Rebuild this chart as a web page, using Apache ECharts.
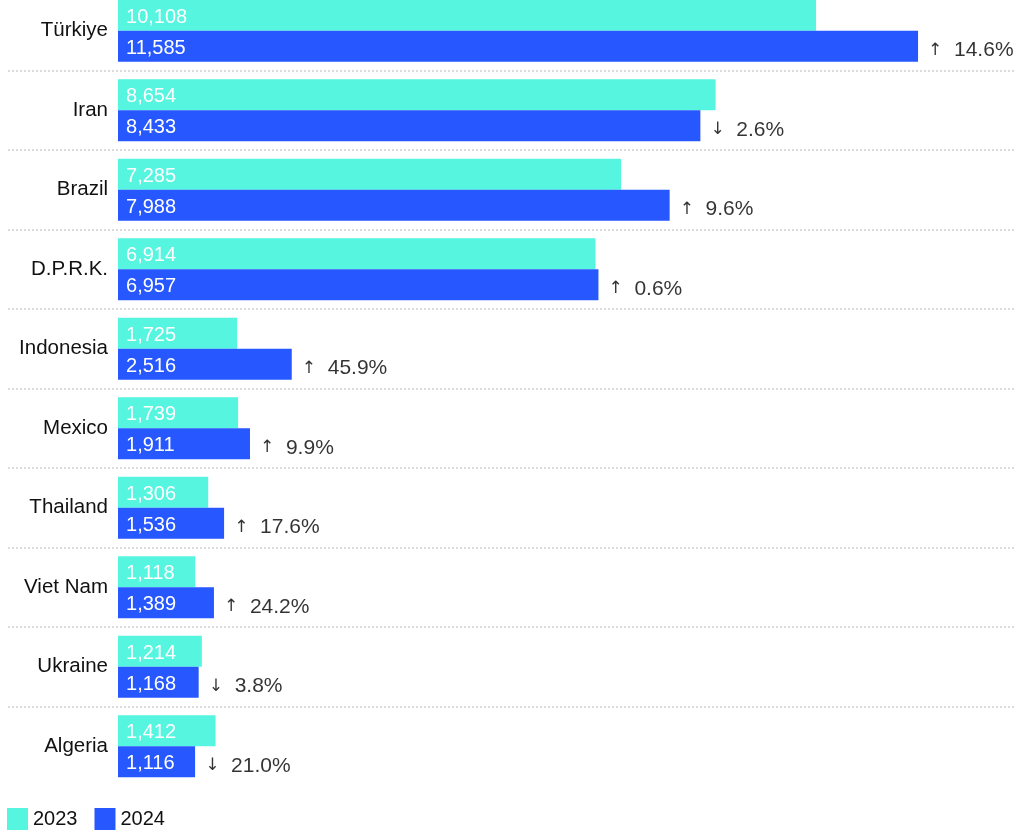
<!DOCTYPE html>
<html>
<head>
<meta charset="utf-8">
<script src="https://cdn.jsdelivr.net/npm/echarts@6/dist/echarts.min.js"></script>
<style>html,body{margin:0;padding:0;background:#fff}#c{width:1024px;height:833px}</style>
</head>
<body>
<div id="c"></div>
<script>
const categories = ['Türkiye','Iran','Brazil','D.P.R.K.','Indonesia','Mexico','Thailand','Viet Nam','Ukraine','Algeria'];
const values2023 = [10108, 8654, 7285, 6914, 1725, 1739, 1306, 1118, 1214, 1412];
const values2024 = [11585, 8433, 7988, 6957, 2516, 1911, 1536, 1389, 1168, 1116];
const changeDir = ['up','down','up','up','up','up','up','up','down','down'];
const changePct = ['14.6%','2.6%','9.6%','0.6%','45.9%','9.9%','17.6%','24.2%','3.8%','21.0%'];

const FONT = '"Liberation Sans", Arial, sans-serif';
const chart = echarts.init(document.getElementById('c'), null, {renderer:'canvas'});
const sepColors = [];
for (let i = 0; i < categories.length; i++) sepColors.push('#cfcfcf');
sepColors.push('rgba(0,0,0,0)');

chart.setOption({
  animation: false,
  textStyle: {fontFamily: FONT},
  legend: {
    left: 2, top: 803, itemWidth: 21, itemHeight: 22, itemGap: 17,
    icon: 'rect', data: ['2023','2024'],
    textStyle: {fontSize: 20, color: '#111', fontFamily: FONT}
  },
  grid: {left: 8, right: 9, top: -9, bottom: 833 - 786, containLabel: false, outerBoundsMode: 'none'},
  xAxis: {
    type: 'value', min: -1593, max: 12989,
    axisLine: {show: false}, axisTick: {show: false}, axisLabel: {show: false}, splitLine: {show: false}
  },
  yAxis: {
    type: 'category', data: categories, inverse: true,
    axisLine: {show: false, onZero: false}, axisTick: {show: false},
    axisLabel: {fontSize: 20.5, color: '#111', margin: -100, fontFamily: FONT, padding: [5, 0, 0, 0]},
    splitLine: {show: true, lineStyle: {type: [2, 2], color: sepColors, width: 1.5}}
  },
  series: [
    {
      name: '2023', type: 'bar', data: values2023, barWidth: 31, barGap: '0%',
      itemStyle: {color: '#55F5E0'},
      label: {show: true, position: 'insideLeft', distance: 8, offset: [0, 2], color: '#fff', fontSize: 20, fontFamily: FONT,
        formatter: p => p.value.toLocaleString('en-US')}
    },
    {
      name: '2024', type: 'bar', data: values2024, barWidth: 31, barGap: '0%',
      itemStyle: {color: '#2657FF'},
      label: {show: true, position: 'insideLeft', distance: 8, offset: [0, 2], color: '#fff', fontSize: 20, fontFamily: FONT,
        formatter: p => p.value.toLocaleString('en-US')}
    },
    {
      name: 'change', type: 'scatter', symbolSize: 0.1, silent: true,
      itemStyle: {color: 'rgba(0,0,0,0)'},
      data: values2024.map((v, i) => [v, categories[i]]),
      label: {
        show: true, position: 'right', distance: 10, offset: [0, 19.5],
        formatter: p => '{a|' + (changeDir[p.dataIndex] === 'up' ? '↑' : '↓') + '}{t|  ' + changePct[p.dataIndex] + '}',
        rich: {
          a: {fontSize: 17, color: '#000', fontFamily: '"DejaVu Sans", sans-serif'},
          t: {fontSize: 21, color: '#000', fontFamily: FONT}
        }
      }
    }
  ]
});
</script>
</body>
</html>
